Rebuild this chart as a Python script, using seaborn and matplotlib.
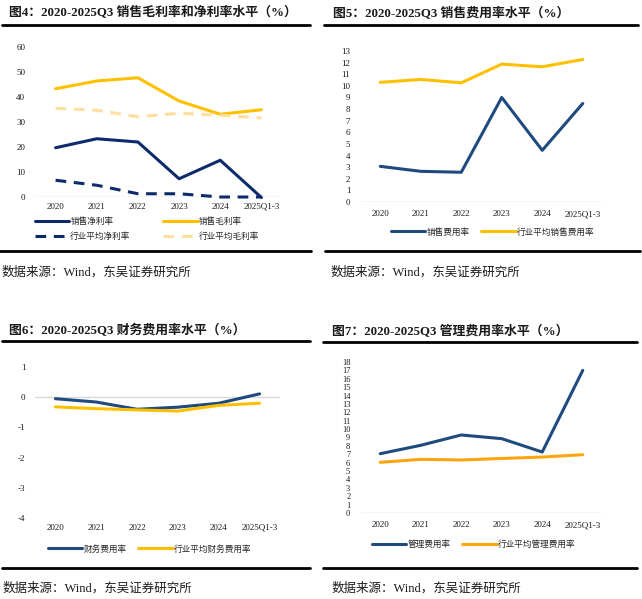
import matplotlib
matplotlib.use("Agg")
import matplotlib.pyplot as plt
from matplotlib.lines import Line2D
import seaborn as sns
import pandas as pd

# Data
years = ["2020", "2021", "2022", "2023", "2024", "2025Q1-3"]

net_margin = [19.7, 23.3, 22.0, 7.3, 14.7, -0.2]
gross_margin = [43.3, 46.4, 47.7, 38.4, 33.1, 34.9]
ind_net_margin = [6.7, 4.7, 1.3, 1.3, 0.0, 0.0]
ind_gross_margin = [35.5, 34.7, 32.1, 33.5, 32.7, 31.6]

sales_exp = [3.07, 2.64, 2.56, 9.0, 4.45, 8.48]
ind_sales_exp = [10.3, 10.55, 10.26, 11.87, 11.64, 12.27]

fin_exp = [-0.05, -0.16, -0.40, -0.33, -0.20, 0.11]
ind_fin_exp = [-0.32, -0.38, -0.42, -0.46, -0.27, -0.20]

admin_exp = [7.07, 8.07, 9.3, 8.86, 7.27, 17.0]
ind_admin_exp = [6.04, 6.4, 6.32, 6.5, 6.67, 6.95]

titles = ["图4：2020-2025Q3 销售毛利率和净利率水平（%）",
          "图5：2020-2025Q3 销售费用率水平（%）",
          "图6：2020-2025Q3 财务费用率水平（%）",
          "图7：2020-2025Q3 管理费用率水平（%）"]
source = "数据来源：Wind，东吴证券研究所"

sns.set_theme(style="white")
FONTS = ["Liberation Serif", "Noto Sans CJK SC", "DejaVu Sans"]
plt.rcParams["font.family"] = FONTS
plt.rcParams["axes.unicode_minus"] = False

W, H = 642, 599
fig = plt.figure(figsize=(W / 100, H / 100), dpi=100)
fig.patch.set_facecolor("white")

NAVY = "#0D2B6B"
BLUE = "#1F4A7E"
YELLOW = "#FFC000"
LIGHT = "#FFDFA0"
ORANGE = "#FFA510"
GRID = "#D9D9D9"


def add_ax(x0, y0, x1, y1):
    return fig.add_axes([x0 / W, 1 - y1 / H, (x1 - x0) / W, (y1 - y0) / H])


def hline(x0, x1, y, lw=2.0):
    fig.add_artist(Line2D([x0 / W, x1 / W], [1 - y / H, 1 - y / H], color="black", lw=lw))


def ftext(x, y, s, size, bold=False):
    fig.text(x / W, 1 - y / H, s, fontsize=size, fontweight="bold" if bold else "normal",
             va="center", ha="left", color="#1a1a1a")


def style_ax(ax, lo, hi, ticks, labels=None, xpad=4):
    ax.set_xlim(-0.5, 5.5)
    ax.set_ylim(lo, hi)
    ax.set_yticks(ticks)
    ax.set_yticklabels(labels if labels else [str(t) for t in ticks])
    ax.set_xticks(range(len(years)))
    ax.set_xticklabels(years)
    for s in ax.spines.values():
        s.set_visible(False)
    ax.tick_params(axis="y", length=0, pad=7, labelsize=6.5, colors="#1a1a1a")
    ax.tick_params(axis="x", length=0, pad=xpad, labelsize=6.5, colors="#1a1a1a")
    ax.set_xlabel("")
    ax.set_ylabel("")
    ax.axhline(0, color=GRID, lw=1.0, zorder=0)
    ax.grid(False)


def draw(ax, vals, color, label, lw=2.2, ls="-"):
    df = pd.DataFrame({"year": years, "value": vals})
    sns.lineplot(data=df, x="year", y="value", ax=ax, color=color, lw=lw,
                 linestyle=ls, label=label, sort=False, clip_on=False)


def legend(ax, order, x, y, colsp):
    h, l = ax.get_legend_handles_labels()
    idx = [l.index(o) for o in order]
    ax.legend([h[i] for i in idx], [l[i] for i in idx], ncol=2, frameon=False,
              loc="center left", bbox_to_anchor=(x / W, 1 - y / H),
              bbox_transform=fig.transFigure, fontsize=6.2, handlelength=4.0,
              handletextpad=0.1, columnspacing=colsp, borderpad=0,
              borderaxespad=0, labelspacing=0.75)


# Panel 1
ax1 = add_ax(35, 47, 282, 197)
draw(ax1, gross_margin, YELLOW, "销售毛利率")
draw(ax1, ind_gross_margin, LIGHT, "行业平均毛利率", ls=(0, (3.5, 2.5)))
draw(ax1, ind_net_margin, NAVY, "行业平均净利率", ls=(0, (3.5, 2.5)))
draw(ax1, net_margin, NAVY, "销售净利率")
style_ax(ax1, 0, 60, list(range(0, 61, 10)))
legend(ax1, ["销售净利率", "行业平均净利率", "销售毛利率", "行业平均毛利率"], 35, 229, 3.8)

# Panel 2
ax2 = add_ax(360, 51, 603, 202)
draw(ax2, sales_exp, BLUE, "销售费用率")
draw(ax2, ind_sales_exp, YELLOW, "行业平均销售费用率")
style_ax(ax2, 0, 13, list(range(0, 14)), xpad=6)
legend(ax2, ["销售费用率", "行业平均销售费用率"], 391, 232, 1.4)

# Panel 3
ax3 = add_ax(35, 367, 280, 518)
draw(ax3, fin_exp, BLUE, "财务费用率")
draw(ax3, ind_fin_exp, YELLOW, "行业平均财务费用率")
style_ax(ax3, -4, 1, list(range(-4, 2)), xpad=4)
legend(ax3, ["财务费用率", "行业平均财务费用率"], 48, 549, 1.4)

# Panel 4
ax4 = add_ax(360, 362, 603, 513)
draw(ax4, admin_exp, BLUE, "管理费用率")
draw(ax4, ind_admin_exp, ORANGE, "行业平均管理费用率")
style_ax(ax4, 0, 18, list(range(0, 19)), xpad=6)
ax4.tick_params(axis="y", labelsize=6)
legend(ax4, ["管理费用率", "行业平均管理费用率"], 372, 545, 1.4)

# Titles, rules and sources
ftext(9, 13, titles[0], 9.3, bold=True)
ftext(333, 13, titles[1], 9.3, bold=True)
ftext(9, 331, titles[2], 9.3, bold=True)
ftext(332, 331, titles[3], 9.3, bold=True)
hline(2, 310, 25)
hline(324, 638, 25)
hline(2, 310, 341)
hline(323, 637, 342)
hline(0, 311, 251)
hline(325, 640, 251)
hline(2, 310, 568)
hline(323, 637, 568)
ftext(2, 272, source, 9)
ftext(331, 272, source, 9)
ftext(3, 588, source, 9)
ftext(332, 588, source, 9)

fig.savefig("out.png", dpi=100, facecolor="white")
